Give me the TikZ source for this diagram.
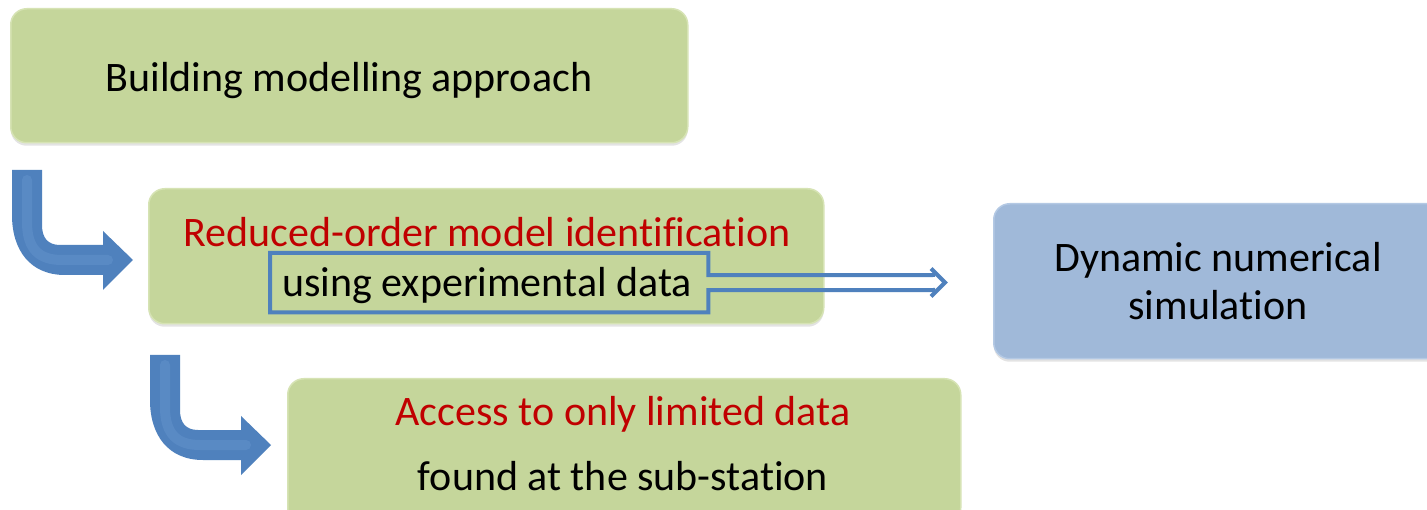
\documentclass[tikz,border=0pt]{standalone}
\usepackage{fontspec}
\setmainfont{Carlito}[Ligatures=NoCommon]
\usetikzlibrary{calc,shadows}
\definecolor{boxgreen}{RGB}{197,214,155}
\definecolor{boxgreenedge}{RGB}{214,227,180}
\definecolor{boxblue}{RGB}{160,185,217}
\definecolor{boxblueedge}{RGB}{180,201,228}
\definecolor{arrowblue}{RGB}{79,129,189}
\definecolor{arrowlight}{RGB}{120,165,220}
\definecolor{darkred}{RGB}{192,0,0}
\begin{document}
\begin{tikzpicture}[x=1pt,y=-1pt,
  roundbox/.style={rounded corners=16pt, line width=1.5pt, inner sep=0pt, anchor=north west,
    drop shadow={opacity=0.22, shadow xshift=0pt, shadow yshift=-3pt}},
  greenbox/.style={roundbox, fill=boxgreen, draw=boxgreenedge},
  bluebox/.style={roundbox, fill=boxblue, draw=boxblueedge},
  txt/.style={font=\fontsize{42}{50}\selectfont, anchor=base, inner sep=0pt},
  redtxt/.style={txt, text=darkred},
  link/.style={draw=arrowblue, line width=4pt, line join=miter},
  bentarrow/.pic={
    \fill[arrowblue] (12,170) -- (42,170) -- (42,225) .. controls (42,238) and (48,245) .. (60,245)
      -- (103,245) -- (103,231) -- (133,260) -- (103,290) -- (103,275) -- (65,275)
      .. controls (30,275) and (12,250) .. (12,215) -- cycle;
    \draw[arrowlight, line width=10pt, opacity=0.25, line cap=round]
      (27,180) -- (27,222) .. controls (27,250) and (40,260) .. (62,260) -- (108,260);
  }]
\clip (0,0) rectangle (1427,510);
\fill[white] (0,0) rectangle (1427,510);

% boxes
\node[greenbox, minimum width=677pt, minimum height=134pt] (b1) at (10,8) {};
\node[greenbox, minimum width=675pt, minimum height=135pt] (b2) at (148,188) {};
\node[bluebox, minimum width=460pt, minimum height=155pt] (b3) at (993,203) {};
\node[greenbox, minimum width=673pt, minimum height=145pt] (b4) at (287,378) {};

% bent arrows
\pic (a1) at (0,0) {bentarrow};
\pic (a2) at (138,185) {bentarrow};

% texts
\node[txt] (t1) at (349,92) {Building modelling approach};
\node[redtxt] (t2a) at (487,247) {Reduced-order model identification};
\node[txt] (t2b) at (487,297) {using experimental data};
\node[txt] (t3a) at (1218,272) {Dynamic numerical};
\node[txt] (t3b) at (1218,320) {simulation};
\node[redtxt] (t4a) at (623,425) {Access to only limited data};
\node[txt] (t4b) at (623,490) {found at the sub-station};

% frame around "using experimental data" and double arrow
\node[inner sep=0pt, minimum width=438pt, minimum height=59pt, anchor=north west] (ue) at (270,253) {};
\coordinate (tip) at (945,282.5);
\draw[link] ($(tip)+(-10,-7.5)$) -- ($(ue.east)+(0,-7.5)$) |- (ue.north west) |- (ue.south east)
  -- ($(ue.east)+(0,7.5)$) -- ($(tip)+(-10,7.5)$);
\draw[link] ($(tip)+(-14,-14)$) -- (tip) -- ($(tip)+(-14,14)$);
\end{tikzpicture}
\end{document}
